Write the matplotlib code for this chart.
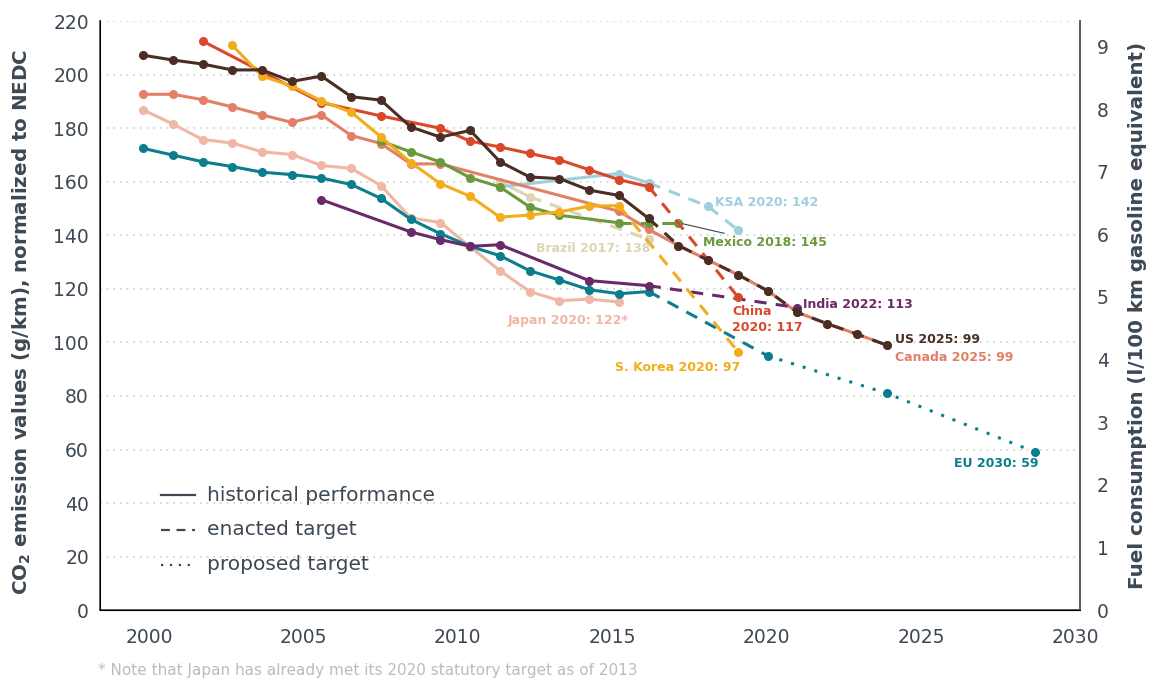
import numpy as np
import matplotlib.pyplot as plt

# ---- data (g/km CO2, NEDC) ----
us_years = [2000, 2001, 2002, 2003, 2004, 2005, 2006, 2007, 2008, 2009, 2010, 2011, 2012, 2013, 2014, 2015, 2016, 2017]
us_vals = [207.3, 205.5, 204, 201.8, 201.8, 197.5, 199.5, 191.8, 190.5, 180.5, 176.7, 179.2, 167.5, 161.8, 161.2, 156.9, 154.9, 146.3]
us_tgt_years = [2017, 2018, 2019, 2020, 2021, 2022, 2023, 2024, 2025]
us_tgt_vals = [146.3, 136.2, 130.7, 125.3, 119.3, 111.2, 107, 103.1, 99]

canada_years = [2000, 2001, 2002, 2003, 2004, 2005, 2006, 2007, 2008, 2009, 2010, 2016]
canada_vals = [192.7, 192.7, 190.7, 188, 185, 182.2, 185, 177.3, 174.3, 166.7, 166.7, 149]
canada_tgt_years = [2016, 2017, 2018, 2019, 2020, 2021, 2022, 2023, 2024, 2025]
canada_tgt_vals = [149, 142.2, 136.2, 130.7, 125.3, 119.3, 111.2, 107, 103.1, 99]

china_years = [2002, 2006, 2008, 2010, 2011, 2012, 2013, 2014, 2015, 2016, 2017]
china_vals = [212.6, 189.6, 184.6, 180, 175.2, 173, 170.6, 168.2, 164.5, 160.8, 158.2]
china_tgt_years = [2017, 2020]
china_tgt_vals = [158.2, 117]

japan_years = [2000, 2001, 2002, 2003, 2004, 2005, 2006, 2007, 2008, 2009, 2010, 2011, 2012, 2013, 2014, 2015, 2016]
japan_vals = [186.9, 181.6, 175.8, 174.5, 171.2, 170.2, 166.1, 165, 158.6, 146.5, 144.8, 135.7, 126.8, 119, 115.6, 116.2, 115.1]

eu_years = [2000, 2001, 2002, 2003, 2004, 2005, 2006, 2007, 2008, 2009, 2010, 2011, 2012, 2013, 2014, 2015, 2016, 2017]
eu_vals = [172.5, 170, 167.5, 165.7, 163.6, 162.7, 161.4, 159, 153.8, 146, 140.6, 135.9, 132.4, 126.8, 123.3, 119.7, 118.2, 119]
eu_tgt_years = [2017, 2021]
eu_tgt_vals = [119, 95]
eu_prop_years = [2021, 2025, 2030]
eu_prop_vals = [95, 81, 59]

india_years = [2006, 2009, 2010, 2011, 2012, 2015, 2017]
india_vals = [153.3, 141.3, 138.4, 135.9, 136.5, 123.1, 121.2]
india_tgt_years = [2017, 2022]
india_tgt_vals = [121.2, 113]

korea_years = [2003, 2004, 2005, 2006, 2007, 2008, 2009, 2010, 2011, 2012, 2013, 2014, 2015, 2016]
korea_vals = [211, 199.5, 195.8, 190.2, 186, 176.8, 167.2, 159.3, 154.6, 146.8, 147.6, 148.8, 150.9, 151.1]
korea_tgt_years = [2016, 2020]
korea_tgt_vals = [151.1, 96.6]

mexico_years = [2008, 2009, 2010, 2011, 2012, 2013, 2014, 2016]
mexico_vals = [175.2, 171.2, 167.4, 161.5, 158.1, 150.6, 147.5, 144.7]
mexico_tgt_years = [2016, 2017, 2018]
mexico_tgt_vals = [144.7, 144.7, 144.7]

ksa_years = [2012, 2016, 2017]
ksa_vals = [158.1, 163.1, 159.6]
ksa_tgt_years = [2017, 2019, 2020]
ksa_tgt_vals = [159.6, 150.8, 142]

brazil_years = [2012, 2013]
brazil_vals = [160, 154.4]
brazil_tgt_years = [2013, 2017]
brazil_tgt_vals = [154.4, 138.5]

year_ticks = [2000, 2005, 2010, 2015, 2020, 2025, 2030]
left_ticks = list(range(0, 221, 20))
right_ticks = list(range(0, 10))

# colours
c_us = '#4a2e25'
c_canada = '#e27f67'
c_china = '#d9482b'
c_japan = '#f0b6a6'
c_eu = '#0a7e8d'
c_india = '#6a2a68'
c_korea = '#f2ad1d'
c_mexico = '#6b9a3d'
c_ksa = '#9ecfdc'
c_brazil = '#ddd4b3'
c_text = '#3d4853'

GKM_PER_L = 23.4  # g/km per l/100km (gasoline)

plt.rcParams['font.family'] = ['DejaVu Sans']

fig = plt.figure(figsize=(11.55, 6.84), dpi=100)
ax = fig.add_axes([0.0866, 0.108, 0.8485, 0.861])

LW = 2.2
MS = 5.5


def hist(x, y, c, z, marker=True):
    ax.plot(x, y, '-', color=c, lw=LW, marker='o' if marker else None, ms=MS, zorder=z)


def target(x, y, c, z, style='--'):
    if style == '--':
        ls = (0, (4, 3))
    else:
        ls = (0, (1, 3))
    ax.plot(x, y, color=c, lw=LW, ls=ls, zorder=z)
    ax.plot(x[1:], y[1:], 'o', color=c, ms=MS, zorder=z)


# draw order roughly as in the original
hist(brazil_years, brazil_vals, c_brazil, 2)
target(brazil_tgt_years, brazil_tgt_vals, c_brazil, 2)
hist(ksa_years, ksa_vals, c_ksa, 2.1)
target(ksa_tgt_years, ksa_tgt_vals, c_ksa, 2.1)
hist(japan_years, japan_vals, c_japan, 2.2)
hist(canada_years, canada_vals, c_canada, 2.3)
ax.plot(canada_tgt_years, canada_tgt_vals, color=c_canada, lw=LW, ls=(3.5, (4, 3)), zorder=2.3)
target(canada_tgt_years, canada_tgt_vals, c_canada, 2.3)
hist(mexico_years, mexico_vals, c_mexico, 2.4)
target(mexico_tgt_years, mexico_tgt_vals, c_mexico, 2.4)
hist(eu_years, eu_vals, c_eu, 2.5)
target(eu_tgt_years, eu_tgt_vals, c_eu, 2.5)
target(eu_prop_years, eu_prop_vals, c_eu, 2.5, style=':')
hist(india_years, india_vals, c_india, 2.6)
target(india_tgt_years, india_tgt_vals, c_india, 2.6)
hist(china_years, china_vals, c_china, 2.7)
target(china_tgt_years, china_tgt_vals, c_china, 2.7)
hist(korea_years, korea_vals, c_korea, 2.8)
target(korea_tgt_years, korea_tgt_vals, c_korea, 2.8)
hist(us_years, us_vals, c_us, 3)
target(us_tgt_years, us_tgt_vals, c_us, 3)

# labels for targets
lab = dict(fontsize=9, fontweight='bold', va='center')
ax.text(2019.23, 152.3, 'KSA 2020: 142', color=c_ksa, ha='left', **lab)
ax.annotate('Mexico 2018: 145', xy=(2018, 144.7), xytext=(2018.82, 137.3),
            color=c_mexico, ha='left', arrowprops=dict(arrowstyle='-', color=c_text, lw=0.8,
                                                         shrinkA=0, shrinkB=3), **lab)
ax.text(2015.13, 135, 'Brazil 2017: 138', color=c_brazil, ha='center', **lab)
ax.text(2022.18, 114.3, 'India 2022: 113', color=c_india, ha='left', **lab)
ax.text(2014.3, 108.2, 'Japan 2020: 122*', color=c_japan, ha='center', **lab)
ax.text(2019.8, 108.5, 'China\n2020: 117', color=c_china, ha='left', linespacing=1.35, **lab)
ax.text(2020.07, 90.8, 'S. Korea 2020: 97', color=c_korea, ha='right', **lab)
ax.text(2025.28, 101, 'US 2025: 99', color=c_us, ha='left', **lab)
ax.text(2025.28, 94.3, 'Canada 2025: 99', color=c_canada, ha='left', **lab)
ax.text(2030.1, 54.6, 'EU 2030: 59', color=c_eu, ha='right', **lab)

# legend drawn by hand, as in the original graphic
leg_y = [43, 30, 17]
leg_txt = ['historical performance', 'enacted target', 'proposed target']
leg_ls = ['-', (0, (4, 3)), (0, (1, 3))]
for yy, t, ls in zip(leg_y, leg_txt, leg_ls):
    ax.plot([2000.6, 2001.75], [yy, yy], color=c_text, lw=1.6, ls=ls, zorder=4)
    ax.text(2002.15, yy, t, color=c_text, fontsize=14.5, va='center', zorder=4)

# axes
ax.set_xlim(1998.555, 2031.5)
ax.set_ylim(0, 220)
# year labels sit slightly off the data years in the original graphic
ax.set_xticks([2000.2 + (y - 2000) * 1.038 for y in year_ticks])
ax.set_xticklabels([str(y) for y in year_ticks])
ax.set_yticks(left_ticks)
ax.tick_params(axis='both', length=0, labelsize=13.5, colors=c_text, pad=8)
ax.tick_params(axis='x', pad=13)
for y in left_ticks[1:]:
    ax.axhline(y, color='#cfcfcf', lw=1.2, ls=(0, (1, 3)), zorder=0)
for s in ['left', 'bottom', 'right']:
    ax.spines[s].set_color('#55606a')
    ax.spines[s].set_linewidth(1.4)
ax.spines['top'].set_visible(False)
ax.set_ylabel(r'CO$_\mathbf{2}$ emission values (g/km), normalized to NEDC',
              fontsize=14.3, fontweight='bold', color=c_text, labelpad=12)
ax.yaxis.set_label_coords(-0.068, 0.49)

ax2 = ax.twinx()
ax2.set_ylim(0, 220 / GKM_PER_L)
ax2.set_yticks(right_ticks)
ax2.tick_params(axis='y', length=0, labelsize=13.5, colors=c_text, pad=12)
ax2.spines['top'].set_visible(False)
ax2.spines['right'].set_color('#55606a')
ax2.spines['right'].set_linewidth(1.4)
ax2.set_ylabel('Fuel consumption (l/100 km gasoline equivalent)',
               fontsize=14.3, fontweight='bold', color=c_text, labelpad=14)

fig.text(0.085, 0.013, '* Note that Japan has already met its 2020 statutory target as of 2013',
         fontsize=11, color='#b9bdc1')

fig.savefig('out.png', dpi=100)
